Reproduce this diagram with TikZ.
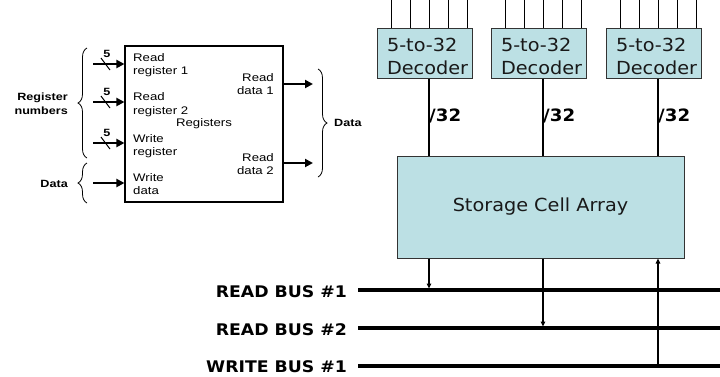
\documentclass[tikz,border=0pt]{standalone}
\usepackage{fontspec}
\setmainfont{Liberation Sans}
\newfontfamily\regfont[FakeStretch=1.2]{Liberation Sans}
\newfontfamily\verdfont[FakeStretch=1.07]{DejaVu Sans}
\newfontfamily\busfont[FakeStretch=1.08]{DejaVu Sans}
\usetikzlibrary{arrows.meta,decorations.pathreplacing,calc}
\definecolor{cellfill}{HTML}{BCE0E4}
\definecolor{edge}{HTML}{333333}

\begin{document}
\begin{tikzpicture}[x=1pt,y=-1pt,
  box/.style={draw=edge, line width=1pt, fill=cellfill, text=black!90},
  decoder/.style={box, font=\verdfont\fontsize{18}{23}\selectfont,
    text width=75pt, inner xsep=10pt, inner ysep=0pt, align=left},
  wire/.style={line width=1.2pt},
  tick/.style={line width=1pt},
  bus/.style={line width=4pt},
  buslabel/.style={font=\busfont\bfseries\fontsize{16}{19}\selectfont,
    anchor=east, inner sep=0pt},
  widthlabel/.style={font=\verdfont\bfseries\fontsize{17}{20}\selectfont,
    anchor=west, inner sep=0pt},
  regtext/.style={font=\regfont\fontsize{11}{13.5}\selectfont, inner sep=0pt},
  reglabel/.style={font=\regfont\bfseries\fontsize{10.5}{13.5}\selectfont,
    inner sep=0pt},
  inarrow/.style={line width=2.8pt, -{Triangle[length=8pt,width=8pt]}},
  busarrow/.style={line width=1.2pt, -{Triangle[length=5pt,width=4.5pt]}},
  slashmark/.style={line width=1pt},
  brace/.style={decorate, decoration={brace, amplitude=9pt}, line width=0.8pt},
]
\useasboundingbox (0,0) rectangle (720,376);

% ---------- register file ----------
\node[draw, line width=1.1pt, minimum width=158pt, minimum height=156pt,
      inner sep=0pt, font=\regfont\fontsize{11}{13.5}\selectfont] (rf) at (204,124) {Registers};

\node[regtext, anchor=west, align=left] (rr1) at (133,65)    {Read\\register 1};
\node[regtext, anchor=west, align=left] (rr2) at (133,104.5) {Read\\register 2};
\node[regtext, anchor=west, align=left] (wr)  at (133,146)   {Write\\register};
\node[regtext, anchor=west, align=left] (wd)  at (133,184)   {Write\\data};
\node[regtext, anchor=east, align=right] (rd1) at (274,84)   {Read\\data 1};
\node[regtext, anchor=east, align=right] (rd2) at (274,164)  {Read\\data 2};

% input ports
\coordinate (in1) at (93,64);
\coordinate (in2) at (93,102);
\coordinate (in3) at (93,143);
\coordinate (in4) at (93,183);
\foreach \p in {in1,in2,in3,in4}
  \draw[inarrow] (\p) -- (\p -| rf.west);

% 5-bit width marks
\foreach \p/\n in {in1/w1,in2/w2,in3/w3} {
  \draw[slashmark] ($(\p)+(8,-6)$) -- ($(\p)+(17,6)$);
  \node[reglabel] (\n) at ($(\p)+(14,-10)$) {5};
}

% output ports
\coordinate (out1) at (313,84);
\coordinate (out2) at (313,163);
\draw[inarrow] (rf.east |- out1) -- (out1);
\draw[inarrow] (rf.east |- out2) -- (out2);

% braces and their labels
\draw[brace] (87,158) -- (87,48);
\draw[brace] (87,203) -- (87,163);
\draw[brace] (318,69) -- (318,177);
\node[reglabel, anchor=east, align=right] (regnum) at (68,103.5) {Register\\numbers};
\node[reglabel, anchor=east] (datain) at (68,184) {Data};
\node[reglabel, anchor=west] (dataout) at (334,123) {Data};

% ---------- storage array ----------
\node[box, minimum width=287pt, minimum height=102pt, inner sep=0pt,
      font=\verdfont\fontsize{18}{22}\selectfont] (sca) at (540.5,207) {Storage Cell Array};

% decoders with their address lines and 32-line outputs
\foreach \i/\c in {1/429,2/543,3/658} {
  \coordinate (col\i) at (\c,0);
  \node[decoder] (dec\i) at (\c-4.5,53)
    {\rule{0pt}{23pt}5-to-32\\Decoder\rule[-4pt]{0pt}{4pt}};
  \foreach \o in {-38,-19,0,19,38} {
    \coordinate (t) at (\c+\o,0);
    \draw[tick] (t) -- (t |- dec\i.north);
  }
  \draw[wire] (col\i |- dec\i.south) -- (col\i |- sca.north);
  \node[widthlabel] (n\i) at (\c,116) {/32};
}

% ---------- buses ----------
\coordinate (b1) at (358,290);
\coordinate (b2) at (358,328);
\coordinate (b3) at (358,366);
\node[buslabel] (rb1) at (347,292) {READ BUS \#1};
\node[buslabel] (rb2) at (347,330) {READ BUS \#2};
\node[buslabel] (wb1) at (347,367) {WRITE BUS \#1};
\foreach \b in {b1,b2,b3}
  \draw[bus] (\b) -- (\b -| 720,0);

\draw[busarrow, shorten >=1.5pt] (col1 |- sca.south) -- (col1 |- b1);
\draw[busarrow, shorten >=1.5pt] (col2 |- sca.south) -- (col2 |- b2);
\draw[busarrow] (col3 |- b3) -- (col3 |- sca.south);
\end{tikzpicture}
\end{document}
